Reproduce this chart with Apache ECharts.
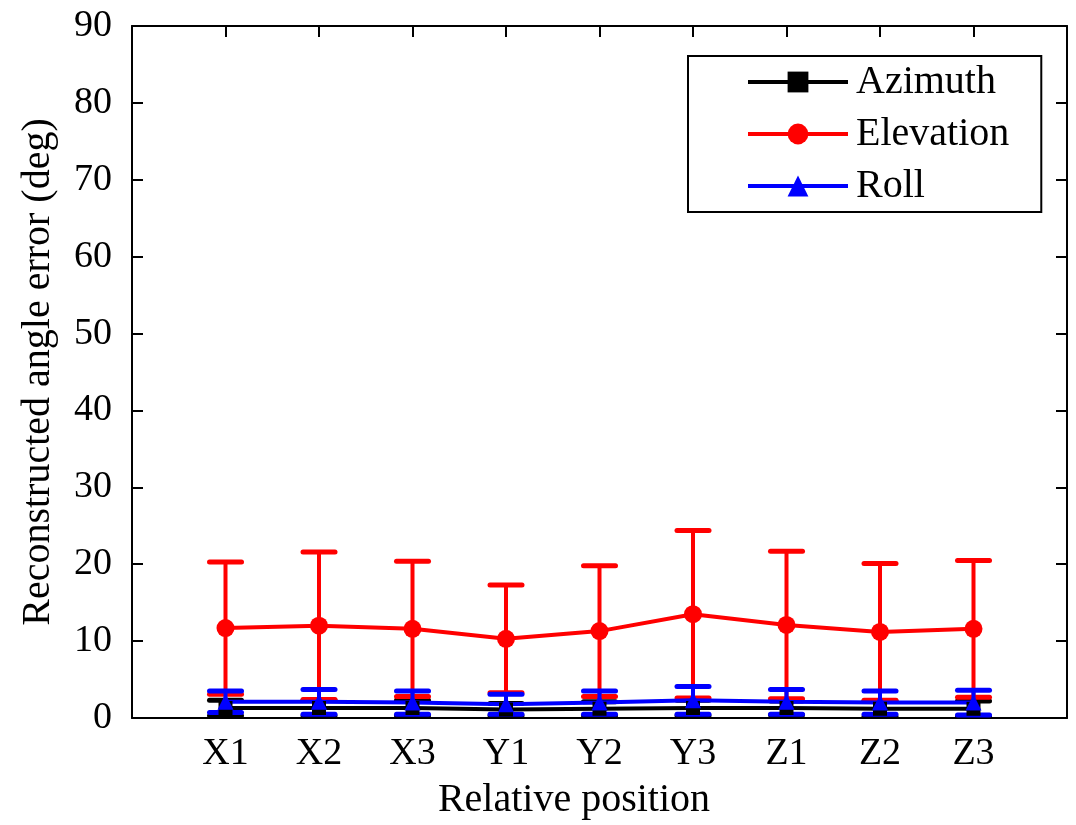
<!DOCTYPE html>
<html>
<head>
<meta charset="utf-8">
<script src="https://cdn.jsdelivr.net/npm/echarts@6/dist/echarts.min.js"></script>
<style>
  html, body { margin: 0; padding: 0; background: #fff; }
  #errorChart { width: 1076px; height: 825px; }
</style>
</head>
<body>
<div id="errorChart"></div>
<script>
// 相对位置
const categories = ["X1", "X2", "X3", "Y1", "Y2", "Y3", "Z1", "Z2", "Z3"];
const yTicks = [0, 10, 20, 30, 40, 50, 60, 70, 80, 90];

const azimuthMean = [1.3, 1.3, 1.3, 1.1, 1.2, 1.3, 1.3, 1.2, 1.2];
const azimuthErr = [1.0, 1.0, 1.0, 0.8, 0.9, 1.0, 0.9, 1.0, 1.0];

const elevationMean = [11.7, 12.0, 11.6, 10.3, 11.3, 13.5, 12.1, 11.2, 11.6];
const elevationErr = [8.6, 9.6, 8.8, 7.0, 8.5, 10.9, 9.6, 8.9, 8.9];

const rollMean = [2.1, 2.1, 2.0, 1.8, 2.0, 2.3, 2.1, 2.0, 2.0];
const rollErr = [1.4, 1.6, 1.5, 1.3, 1.5, 1.8, 1.6, 1.5, 1.6];

const FONT = "Liberation Serif";

const chart = echarts.init(document.getElementById("errorChart"));

function points(mean) {
  return mean.map((v, i) => [i + 1, v]);
}

function errorBars(name, color, mean, err) {
  return {
    name: name + " error",
    type: "custom",
    data: mean.map((v, i) => [i + 1, v - err[i], v + err[i]]),
    renderItem: function (params, api) {
      const x = api.value(0);
      const lo = api.coord([x, api.value(1)]);
      const hi = api.coord([x, api.value(2)]);
      const half = 16;
      const cap = { stroke: color, lineWidth: 5, lineCap: "round" };
      return {
        type: "group",
        children: [
          { type: "line", shape: { x1: lo[0], y1: lo[1], x2: hi[0], y2: hi[1] }, style: { stroke: color, lineWidth: 4 } },
          { type: "line", shape: { x1: hi[0] - half, y1: hi[1], x2: hi[0] + half, y2: hi[1] }, style: cap },
          { type: "line", shape: { x1: lo[0] - half, y1: lo[1], x2: lo[0] + half, y2: lo[1] }, style: cap },
        ],
      };
    },
    silent: true,
  };
}

function meanLine(name, color, symbol, size, mean) {
  return {
    name: name,
    type: "line",
    data: points(mean),
    symbol: symbol,
    symbolSize: size,
    itemStyle: { color: color },
    lineStyle: { color: color, width: 4 },
  };
}

const axisCommon = {
  type: "value",
  axisLine: { onZero: false, lineStyle: { color: "#000", width: 2 } },
  axisTick: { inside: true, length: 11, lineStyle: { color: "#000", width: 2 } },
  splitLine: { show: false },
};

let option = {
  animation: false,
  backgroundColor: "#fff",
  grid: { left: 132, right: 9, top: 26, bottom: 103 },
  legend: {
    orient: "vertical",
    left: 688,
    top: 56,
    padding: [6, 32, 6, 58],
    itemGap: 12,
    itemWidth: 100,
    itemHeight: 26,
    borderColor: "#000",
    borderWidth: 2,
    data: ["Azimuth", "Elevation", "Roll"],
    lineStyle: { width: 4 },
    textStyle: { fontFamily: FONT, fontSize: 40, color: "#000", padding: [0, 0, 0, 3] },
  },
  xAxis: [
    Object.assign({}, axisCommon, {
      min: 0,
      max: 10,
      interval: 1,
      name: "Relative position",
      nameLocation: "middle",
      nameGap: 62,
      nameTextStyle: { fontFamily: FONT, fontSize: 40, color: "#000", padding: [0, 51, 0, 0] },
      axisLabel: {
        fontFamily: FONT,
        fontSize: 38,
        color: "#000",
        margin: 17,
        formatter: (v) => categories[v - 1] || "",
      },
    }),
    Object.assign({}, axisCommon, {
      position: "top",
      min: 0,
      max: 10,
      interval: 1,
      axisLabel: { show: false },
    }),
  ],
  yAxis: [
    Object.assign({}, axisCommon, {
      min: yTicks[0],
      max: yTicks[yTicks.length - 1],
      interval: 10,
      name: "Reconstructed angle error (deg)",
      nameLocation: "middle",
      nameGap: 74,
      nameTextStyle: { fontFamily: FONT, fontSize: 40, color: "#000" },
      axisLabel: { fontFamily: FONT, fontSize: 38, color: "#000", margin: 20 },
    }),
    Object.assign({}, axisCommon, {
      position: "right",
      min: yTicks[0],
      max: yTicks[yTicks.length - 1],
      interval: 10,
      axisLabel: { show: false },
    }),
  ],
  series: [
    errorBars("Azimuth", "#000000", azimuthMean, azimuthErr),
    meanLine("Azimuth", "#000000", "rect", 14, azimuthMean),
    errorBars("Elevation", "#ff0000", elevationMean, elevationErr),
    meanLine("Elevation", "#ff0000", "circle", 18, elevationMean),
    errorBars("Roll", "#0000ff", rollMean, rollErr),
    meanLine("Roll", "#0000ff", "triangle", 16, rollMean),
  ],
};
chart.setOption(option, true);
</script>
</body>
</html>
